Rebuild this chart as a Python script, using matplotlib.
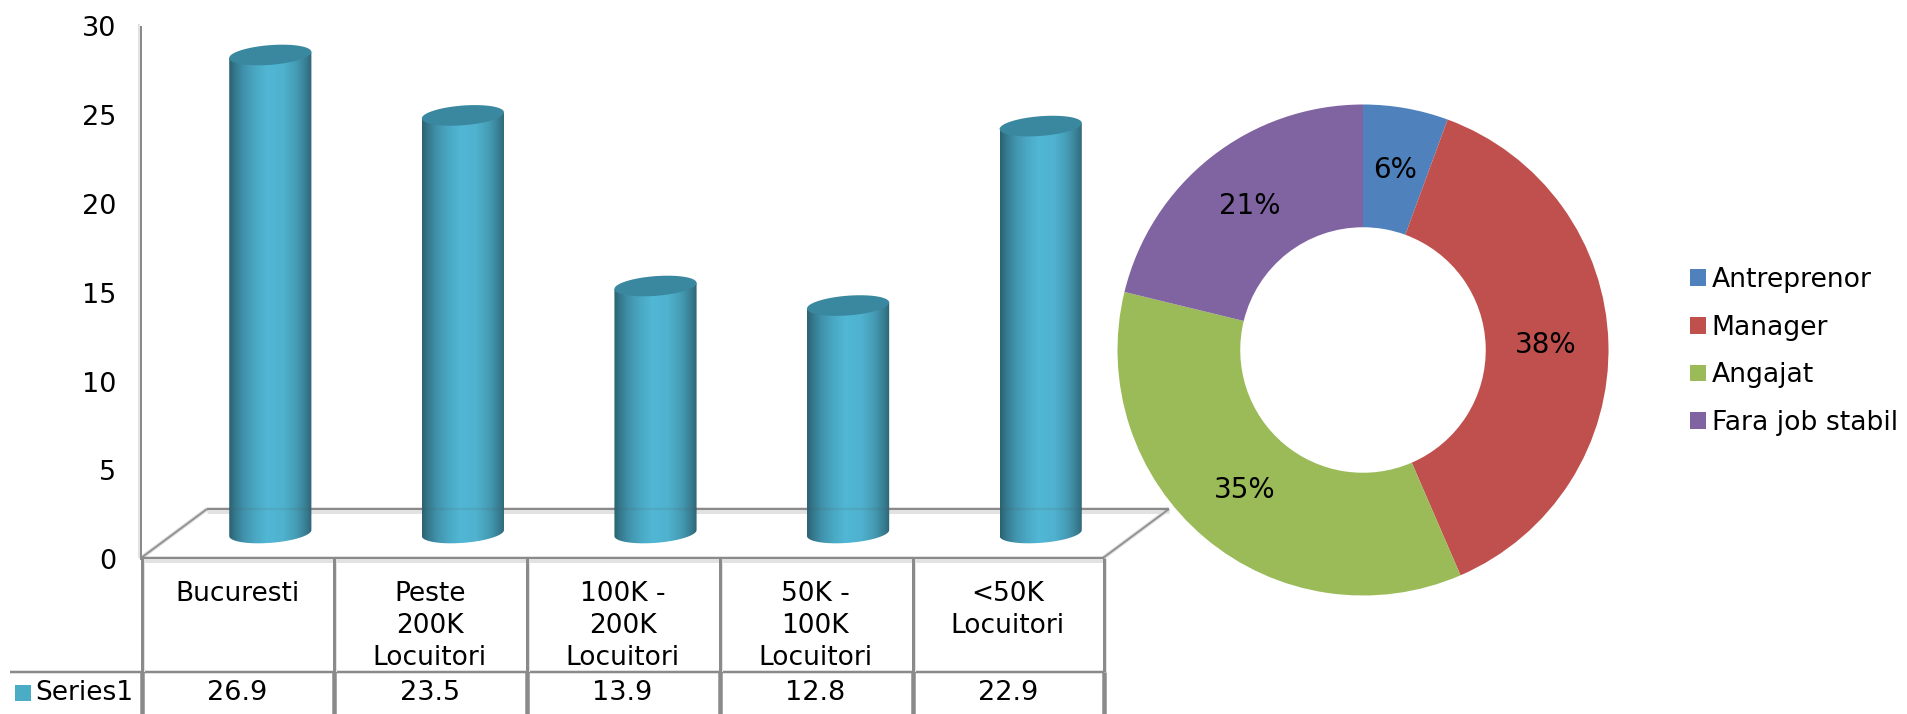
import numpy as np
import matplotlib
matplotlib.use("Agg")
import matplotlib.pyplot as plt
from matplotlib.colors import LinearSegmentedColormap
from matplotlib.patches import Polygon, Rectangle

categories = ["Bucuresti", "Peste\n200K\nLocuitori", "100K -\n200K\nLocuitori",
              "50K -\n100K\nLocuitori", "<50K\nLocuitori"]
series_name = "Series1"
series_values = [26.9, 23.5, 13.9, 12.8, 22.9]
y_ticks = [0, 5, 10, 15, 20, 25, 30]
pie_labels = ["Antreprenor", "Manager", "Angajat", "Fara job stabil"]
pie_values = [5.6, 37.9, 35.3, 21.2]
pie_colors = ["#4F81BD", "#C0504D", "#9BBB59", "#8064A2"]

W, H = 1908, 714
FS = 19.5
FS_CAT = 19
plt.rcParams["font.family"] = "DejaVu Sans"
fig = plt.figure(figsize=(W / 100, H / 100), dpi=100)
px = 0.72  # pixels to points


def box(x0, y_top, x1, y_bot, **kw):
    return fig.add_axes([x0 / W, 1 - y_bot / H, (x1 - x0) / W, (y_bot - y_top) / H], **kw)


# overlay with the chart's frame, in pixels
fr = box(0, 0, W, H, zorder=0)
fr.set_xlim(0, W)
fr.set_ylim(H, 0)
fr.axis("off")
DARK, LIGHT = "#8a8a8a", "#e2e2e2"


def line(x, y, w, c=DARK, **kw):
    fr.plot(x, y, color=c, lw=w * px, solid_capstyle="butt", **kw)


line([139.5, 139.5], [24, 558], 2, LIGHT)
line([207, 1169], [512, 512], 3, LIGHT)
line([141, 1104], [561, 561], 3, LIGHT)
line([141, 207], [558, 509], 4, "#dddddd")
line([1103, 1169], [558, 509], 4, "#dddddd")
line([141, 207], [558, 509], 1.8, "#909090")
line([1103, 1169], [558, 509], 1.8, "#909090")
line([207, 1169], [509, 509], 2.5)
line([141, 1104], [558, 558], 2.5)
line([10, 1104], [672, 672], 2.5)
for xv in [142, 334.5, 527, 720, 913, 1104]:
    line([xv + 2, xv + 2], [559, 672], 2, LIGHT)
    line([xv, xv], [558, 672], 3)
    line([xv, xv], [672, 714], 4.5)

# value axis
ya = box(141, 26.5, 142, 559, zorder=1)
ya.patch.set_alpha(0)
ya.set_ylim(0, 30)
ya.set_xticks([])
ya.set_yticks(y_ticks)
ya.tick_params(axis="y", length=0, pad=18, labelsize=FS)
for s in ["top", "right", "bottom"]:
    ya.spines[s].set_visible(False)
ya.spines["left"].set_color(DARK)
ya.spines["left"].set_linewidth(2 * px)

# cylinders
YMIN = -1.5
FLOOR_BACK = 1.35
ax = box(174, 533 - 30 * 17.77, 1137, 533 - YMIN * 17.77, zorder=2)
ax.patch.set_alpha(0)
ax.axis("off")
stops = [(0, "#2c6172"), (0.07, "#35788c"), (0.18, "#4193ad"), (0.32, "#4aa8c3"),
         (0.46, "#51b7d5"), (0.66, "#4fb2ce"), (0.82, "#449ab3"), (0.94, "#377a8e"),
         (1, "#2e6475")]
cmap = LinearSegmentedColormap.from_list("cyl", stops)
grad = np.linspace(0, 1, 256).reshape(1, -1)
hw, hh, sk = 0.2133, 0.555, 0.17
for i, v in enumerate(series_values):
    xc = i + 0.5
    t = np.linspace(np.pi, 2 * np.pi, 60)
    bx = xc + hw * np.cos(t)
    by = hh * np.sin(t) + sk * np.cos(t)
    pts = np.r_[np.c_[bx, by], [[xc + hw, v + sk], [xc - hw, v - sk]]]
    body = Polygon(pts, closed=True, fc="none", ec="none", transform=ax.transData)
    ax.add_patch(body)
    im = ax.imshow(grad, cmap=cmap, aspect="auto", extent=[xc - hw, xc + hw, -1, v + 1],
                   interpolation="bilinear", zorder=2)
    im.set_clip_path(body)
    ax.plot([xc - hw, xc + hw], [FLOOR_BACK, FLOOR_BACK], color="#555555", alpha=0.12,
            lw=2.5 * px, solid_capstyle="butt", zorder=2.5)
    t = np.linspace(0, 2 * np.pi, 100)
    ax.add_patch(Polygon(np.c_[xc + hw * np.cos(t), v + hh * np.sin(t) + sk * np.cos(t)],
                         closed=True, fc="#3a87a0", ec="none", zorder=3))
ax.set_xlim(0, len(categories))
ax.set_ylim(YMIN, 30)

# data table
ta = box(141, 558, 1104, 714, zorder=3)
ta.patch.set_alpha(0)
ta.axis("off")
ta.set_xlim(0, len(categories))
ta.set_ylim(714, 558)
for i, (c, v) in enumerate(zip(categories, series_values)):
    ta.text(i + 0.5, 581, c, ha="center", va="top", fontsize=FS_CAT, linespacing=1.3)
    ta.text(i + 0.5, 693, f"{v:.1f}", ha="center", va="center", fontsize=FS)
fr.add_patch(Rectangle((15, 685), 16, 16, fc="#4BACC6", ec="none"))
fr.text(35, 693, series_name, ha="left", va="center", fontsize=FS_CAT)

# doughnut
pa = box(1363 - 245.5, 350 - 245.5, 1363 + 245.5, 350 + 245.5, zorder=4)
wedges, _, autos = pa.pie(pie_values, colors=pie_colors, startangle=90, counterclock=False,
                          radius=1, autopct="%.0f%%", pctdistance=0.745,
                          wedgeprops=dict(width=0.5), textprops=dict(fontsize=20))
pa.set_xlim(-1, 1)
pa.set_ylim(-1, 1)
fig.legend(wedges, pie_labels, loc="center left", frameon=False, fontsize=19.2,
           bbox_to_anchor=(1690 / W, 1 - 351.5 / H), borderaxespad=0, borderpad=0,
           handlelength=0.61, handleheight=0.58, handletextpad=0.2, labelspacing=0.81)

fig.savefig("out.png", dpi=100)
